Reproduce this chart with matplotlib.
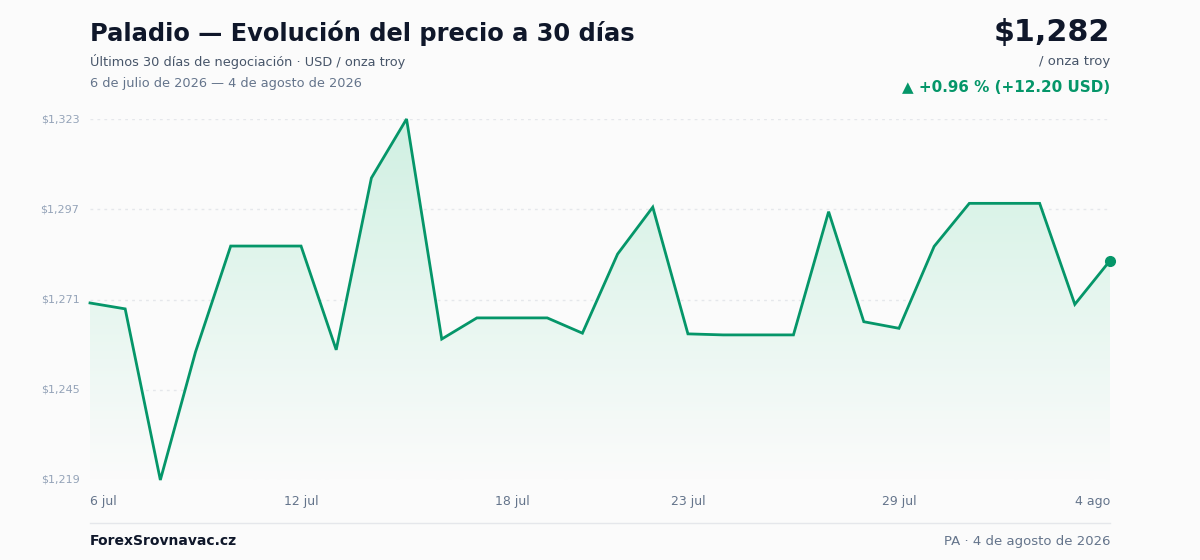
import numpy as np
import matplotlib
matplotlib.use("Agg")
import matplotlib.pyplot as plt
from matplotlib.colors import LinearSegmentedColormap

# data
prices = [1270.0, 1268.3, 1219.0, 1255.9, 1286.4, 1286.4, 1286.4, 1256.5,
          1306.0, 1323.0, 1259.6, 1265.7, 1265.7, 1265.7, 1261.3, 1284.1,
          1297.6, 1261.1, 1260.8, 1260.8, 1260.8, 1296.3, 1264.6, 1262.7,
          1286.3, 1298.7, 1298.7, 1298.7, 1269.6, 1282.2]
tick_idx = [0, 6, 12, 17, 23, 29]
tick_lab = ['6 jul', '12 jul', '18 jul', '23 jul', '29 jul', '4 ago']
y_ticks = [1219, 1245, 1271, 1297, 1323]

green = '#059669'
bg = '#fbfbfb'

fig = plt.figure(figsize=(12, 5.6), dpi=100, facecolor=bg)
ax = fig.add_axes([90/1200, 1-480/560, 1020/1200, 361/560])
ax.set_facecolor(bg)

x = np.arange(len(prices))
ax.set_xlim(0, len(prices)-1)
ax.set_ylim(1219, 1323)

# gridlines
for v in y_ticks:
    ax.axhline(v, color='#e5e7eb', lw=1, ls=(0, (2, 3)), zorder=0)

# gradient fill under the line
cmap = LinearSegmentedColormap.from_list('g', ['#fbfbfb', '#e6f6ef', '#d0f0e2'])
grad = np.linspace(0, 1, 256).reshape(-1, 1)
img = ax.imshow(grad, extent=[0, len(prices)-1, 1219, 1323], origin='lower',
                aspect='auto', cmap=cmap, zorder=1)
poly = ax.fill_between(x, prices, 1219, color='none')
img.set_clip_path(poly.get_paths()[0], transform=ax.transData)

ax.plot(x, prices, color=green, lw=2, zorder=3, clip_on=False,
        solid_joinstyle='miter')
ax.plot(x[-1], prices[-1], 'o', color=green, ms=7, zorder=4, clip_on=False)

for s in ax.spines.values():
    s.set_visible(False)
ax.set_xticks([])
ax.set_yticks([])

# y labels
for v in y_ticks:
    ax.text(-0.3, v, '${:,}'.format(v), ha='right', va='center',
            fontsize=8, color='#94a3b8')

# x labels
for i, lab in zip(tick_idx, tick_lab):
    ha = 'center'
    if i == 0:
        ha = 'left'
    elif i == len(prices)-1:
        ha = 'right'
    fig.text(90/1200 + i*1020/1200/(len(prices)-1), 1-501/560, lab,
             ha=ha, va='center', fontsize=9, color='#64748b')

# header
fig.text(90/1200, 1-33/560, 'Paladio — Evolución del precio a 30 días',
         fontsize=17.4, fontweight='bold', color='#0f172a', va='center')
fig.text(90/1200, 1-61/560, 'Últimos 30 días de negociación · USD / onza troy',
         fontsize=9.25, color='#475569', va='center')
fig.text(90/1200, 1-83/560, '6 de julio de 2026 — 4 de agosto de 2026',
         fontsize=9.3, color='#64748b', va='center')

fig.text(1110/1200, 1-32/560, '$1,282', fontsize=21.7, fontweight='bold',
         color='#0f172a', ha='right', va='center')
fig.text(1110/1200, 1-61/560, '/ onza troy', fontsize=9.5, color='#475569',
         ha='right', va='center')
fig.text(1110/1200, 1-87/560, '▲ +0.96 % (+12.20 USD)', fontsize=10.9,
         fontweight='bold', color=green, ha='right', va='center')

# footer
fig.add_artist(plt.Line2D([90/1200, 1110/1200], [1-523/560, 1-523/560],
                          color='#e5e7eb', lw=1))
fig.text(90/1200, 1-541/560, 'ForexSrovnavac.cz', fontsize=10,
         fontweight='bold', color='#0f172a', va='center')
fig.text(1110/1200, 1-541/560, 'PA · 4 de agosto de 2026', fontsize=9.5,
         color='#64748b', ha='right', va='center')

fig.savefig('out.png', dpi=100, facecolor=bg)
